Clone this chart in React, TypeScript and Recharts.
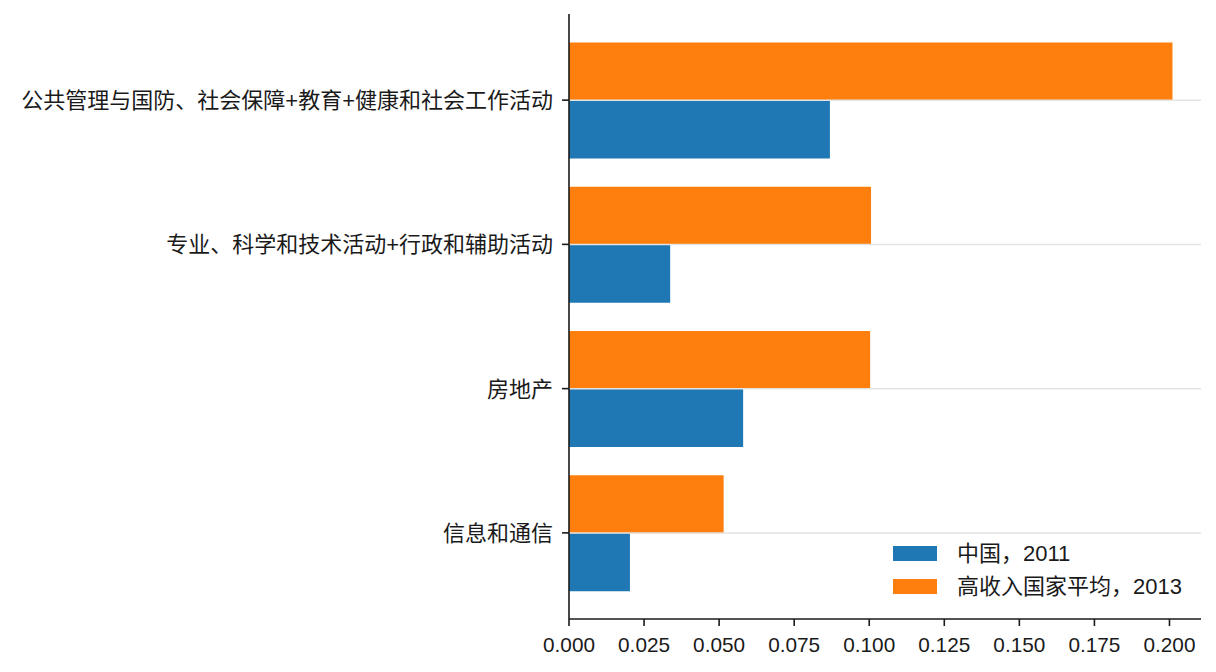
import { BarChart, Bar, XAxis, YAxis, ReferenceLine } from 'recharts';

const CATEGORIES = [
  '公共管理与国防、社会保障+教育+健康和社会工作活动',
  '专业、科学和技术活动+行政和辅助活动',
  '房地产',
  '信息和通信',
];
const CHINA_2011 = [0.0869, 0.0337, 0.058, 0.0203];
const HIGH_INCOME_2013 = [0.201, 0.1006, 0.1003, 0.0515];
const X_TICKS = [0, 0.025, 0.05, 0.075, 0.1, 0.125, 0.15, 0.175, 0.2];

const SERIES = [
  { key: 'high', label: '高收入国家平均，2013', color: '#ff7f0e' },
  { key: 'china', label: '中国，2011', color: '#1f77b4' },
];
// legend order differs from the bar order
const LEGEND = [SERIES[1], SERIES[0]];

const data = CATEGORIES.map((name, i) => ({
  name,
  china: CHINA_2011[i],
  high: HIGH_INCOME_2013[i],
}));

const FONT = '"Liberation Sans", Arial, "Noto Sans CJK SC", sans-serif';
const AXIS = '#1a1a1a';

const XTick = ({ x, y, payload }: any) => (
  <text x={x} y={y + 26} textAnchor="middle" fontSize={20.8} fill="#1a1a1a" fontFamily={FONT}>
    {Number(payload.value).toFixed(3)}
  </text>
);

const YTick = ({ x, y, payload }: any) => (
  <text x={x} y={y} dy="0.36em" textAnchor="end" fontSize={22} fill="#1a1a1a" fontFamily={FONT}>
    {payload.value}
  </text>
);

export default function App() {
  return (
    <div style={{ position: 'absolute', left: 0, top: 0, width: 1216, height: 672, background: '#fff', fontFamily: FONT }}>
      <BarChart
        width={1216}
        height={672}
        data={data}
        layout="vertical"
        margin={{ top: 14, right: 15, bottom: 0, left: 0 }}
        barCategoryGap="10%"
        barGap={0}
      >
        <XAxis
          type="number"
          domain={[0, 0.2105]}
          ticks={X_TICKS}
          height={53}
          tick={<XTick />}
          tickSize={7}
          tickMargin={0}
          axisLine={{ stroke: AXIS, strokeWidth: 1.6 }}
          tickLine={{ stroke: AXIS, strokeWidth: 1.6 }}
          allowDataOverflow
        />
        <YAxis
          type="category"
          dataKey="name"
          width={569}
          padding={{ top: 14, bottom: 14 }}
          tick={<YTick />}
          tickSize={7}
          tickMargin={9}
          interval={0}
          axisLine={{ stroke: AXIS, strokeWidth: 1.6 }}
          tickLine={{ stroke: AXIS, strokeWidth: 1.6 }}
        />
        {SERIES.map(s => (
          <Bar key={s.key} dataKey={s.key} fill={s.color} isAnimationActive={false} />
        ))}
        {CATEGORIES.map(c => (
          <ReferenceLine key={c} y={c} stroke="#e3e3e3" strokeWidth={1.5} />
        ))}
      </BarChart>

      {/* 凡例（右下） */}
      <div style={{ position: 'absolute', left: 893, top: 537, fontSize: 22, color: '#1a1a1a', lineHeight: '33px' }}>
        {LEGEND.map(s => (
          <div key={s.key} style={{ display: 'flex', alignItems: 'center', height: 33 }}>
            <span style={{ display: 'inline-block', width: 44, height: 15, background: s.color, marginRight: 20 }} />
            <span>{s.label}</span>
          </div>
        ))}
      </div>
    </div>
  );
}
